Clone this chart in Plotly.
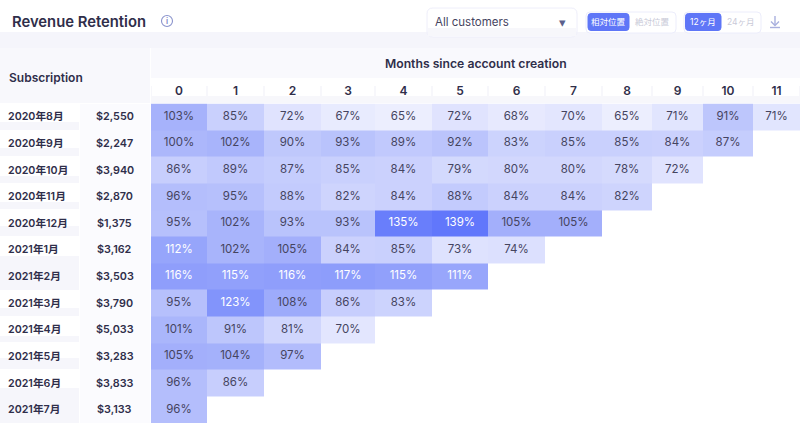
import plotly.graph_objects as go

W, H = 800, 423
FONT = "Inter, 'Noto Sans CJK JP', sans-serif"
INK = "#2F2E4A"

cohorts = ["2020年8月","2020年9月","2020年10月","2020年11月","2020年12月","2021年1月",
           "2021年2月","2021年3月","2021年4月","2021年5月","2021年6月","2021年7月"]
revenue = ["$2,550","$2,247","$3,940","$2,870","$1,375","$3,162",
           "$3,503","$3,790","$5,033","$3,283","$3,833","$3,133"]
months = ["0","1","2","3","4","5","6","7","8","9","10","11"]
retention = [
    [103,85,72,67,65,72,68,70,65,71,91,71],
    [100,102,90,93,89,92,83,85,85,84,87],
    [86,89,87,85,84,79,80,80,78,72],
    [96,95,88,82,84,88,84,84,82],
    [95,102,93,93,135,139,105,105],
    [112,102,105,84,85,73,74],
    [116,115,116,117,115,111],
    [95,123,108,86,83],
    [101,91,81,70],
    [105,104,97],
    [96,86],
    [96],
]

# layout constants (table column edges in page pixels)
col_edges = [151,207,264,321,375,432,488,545,602,652,703,753,800]
TOP = 103.5

z = [r + [None]*(12-len(r)) for r in retention]
xc = [(col_edges[i]+col_edges[i+1])/2 for i in range(12)]

px = lambda v: v/W
py = lambda v: 1-v/H

fig = go.Figure()
fig.add_trace(go.Heatmap(
    z=z, x=col_edges, y=cohorts, zmin=65, zmax=139, showscale=False, hoverongaps=False,
    colorscale=[[0,"#ECEEFE"],[0.27,"#C9D0FD"],[0.5,"#A8B4FB"],[0.78,"#8394FB"],[1,"#6177FB"]],
    xgap=0, ygap=0,
))
tx, ty, tt, tc = [], [], [], []
for c, row in zip(cohorts, retention):
    for i, v in enumerate(row):
        tx.append(xc[i]); ty.append(c); tt.append(f"{v}%")
        tc.append("white" if v >= 110 else "#45445F")
fig.add_trace(go.Scatter(x=tx, y=ty, mode="text", text=tt, hoverinfo="skip",
                         textfont=dict(family=FONT, size=11.5, color=tc), showlegend=False))

fig.update_xaxes(range=[151,800], domain=[px(151),1], side="top", showgrid=False, zeroline=False,
                 tickmode="array", tickvals=xc, ticktext=months, ticks="", showline=False,
                 tickfont=dict(family=FONT, size=12, color=INK, weight=600), ticklabelstandoff=5)
fig.update_yaxes(type="category", range=[11.5,-0.5], domain=[0, py(TOP)], showgrid=False,
                 zeroline=False, showticklabels=False, ticks="", showline=False)

shapes = []
def rect(x0,y0,x1,y1,fill,line=None,r=0,layer="below"):
    if r:
        p=(f"M{px(x0+r)},{py(y0)} L{px(x1-r)},{py(y0)} Q{px(x1)},{py(y0)} {px(x1)},{py(y0+r)} "
           f"L{px(x1)},{py(y1-r)} Q{px(x1)},{py(y1)} {px(x1-r)},{py(y1)} "
           f"L{px(x0+r)},{py(y1)} Q{px(x0)},{py(y1)} {px(x0)},{py(y1-r)} "
           f"L{px(x0)},{py(y0+r)} Q{px(x0)},{py(y0)} {px(x0+r)},{py(y0)} Z")
        shapes.append(dict(type="path",path=p,xref="paper",yref="paper",fillcolor=fill,
                           line=dict(color=line or fill,width=1),layer=layer))
    else:
        shapes.append(dict(type="rect",xref="paper",yref="paper",x0=px(x0),x1=px(x1),y0=py(y0),y1=py(y1),
                           fillcolor=fill,line=dict(width=0),layer=layer))

rect(0,32,800,48,"#F5F5FB")
rect(0,48,150,103,"#F8F8FC")
rect(151,48,800,78,"#F9F9FD")
rect(151,86,800,103,"#F7F7FB")
for a,b in zip(col_edges[:-1],col_edges[1:]):
    rect(a+1,78,b-1,96,"#FFFFFF")
rect(80,104,150,H,"#FBFBFE")
for y0,y1 in [(122,130),(148,156),(176,183),(202,209),(226,236),(256,290),(308,316),(336,342),(358,369),(388,396),(396,H)]:
    rect(0,y0,79,y1,"#F6F6FB")
rect(427,8,577,37,"#FFFFFF","#EEEEFA",r=6)
rect(428,28,576,36,"#F7F7FB")
rect(586,12,676,33,"#FFFFFF","#ECEDFB",r=4)
rect(588,13.5,629,30.5,"#5F76F7",r=3)
rect(684,12,761,33,"#FFFFFF","#ECEDFB",r=4)
rect(685.5,13.5,721,30.5,"#5F76F7",r=3)
# info icon ring and download glyph
shapes.append(dict(type="circle",xref="paper",yref="paper",x0=px(161.5),x1=px(172.5),y0=py(26.5),y1=py(15.5),
                   line=dict(color="#8A93CC",width=1.1),fillcolor="rgba(0,0,0,0)"))
for p in [[(775,16),(775,25)],[(771,21.5),(775,25.5),(779,21.5)],[(770,27.5),(780,27.5)]]:
    d="M"+" L".join(f"{px(a)},{py(b)}" for a,b in p)
    shapes.append(dict(type="path",path=d,xref="paper",yref="paper",line=dict(color="#A9B0DE",width=1.4)))

ann = []
def text(x,y,s,size=12,color=INK,anchor="left",weight=400):
    ann.append(dict(xref="paper",yref="paper",x=px(x),y=py(y),text=s,showarrow=False,xanchor=anchor,
                    yanchor="middle",font=dict(family=FONT,size=size,color=color,weight=weight)))
text(10,22,"Revenue Retention",14.8,"#2F2E4A",weight=600)
text(167,21,"i",8,"#7C86C8","center",weight=600)
text(7,77,"Subscription",12,"#2F2E4A",weight=600)
text(476.5,63,"Months since account creation",12.2,"#2F2E4A","center",weight=600)
text(433,22,"All customers",11.5,"#45445F")
text(562,21.5,"▾",13,"#5B5F8C","center")
text(608.5,22,"相対位置",8.5,"#FFFFFF","center")
text(652,22,"絶対位置",8.5,"#C9CAD8","center")
text(703,22,"12ヶ月",8.5,"#FFFFFF","center")
text(741,22,"24ヶ月",8.5,"#C9CAD8","center")
for c, r in zip(cohorts, revenue):
    ann.append(dict(xref="paper",yref="y",x=px(6),y=c,text=c,showarrow=False,xanchor="left",
                    font=dict(family=FONT,size=10.7,color=INK,weight=600)))
    ann.append(dict(xref="paper",yref="y",x=px(115),y=c,text=r,showarrow=False,xanchor="center",
                    font=dict(family=FONT,size=10.8,color=INK,weight=600)))

fig.update_layout(width=W,height=H,margin=dict(l=0,r=0,t=0,b=0),paper_bgcolor="#FFFFFF",plot_bgcolor="#FFFFFF",
                  showlegend=False,shapes=shapes,annotations=ann)
fig.write_html("out.html", config=dict(displayModeBar=False),
               post_script="document.body.style.margin='0';document.body.style.overflow='hidden';")
